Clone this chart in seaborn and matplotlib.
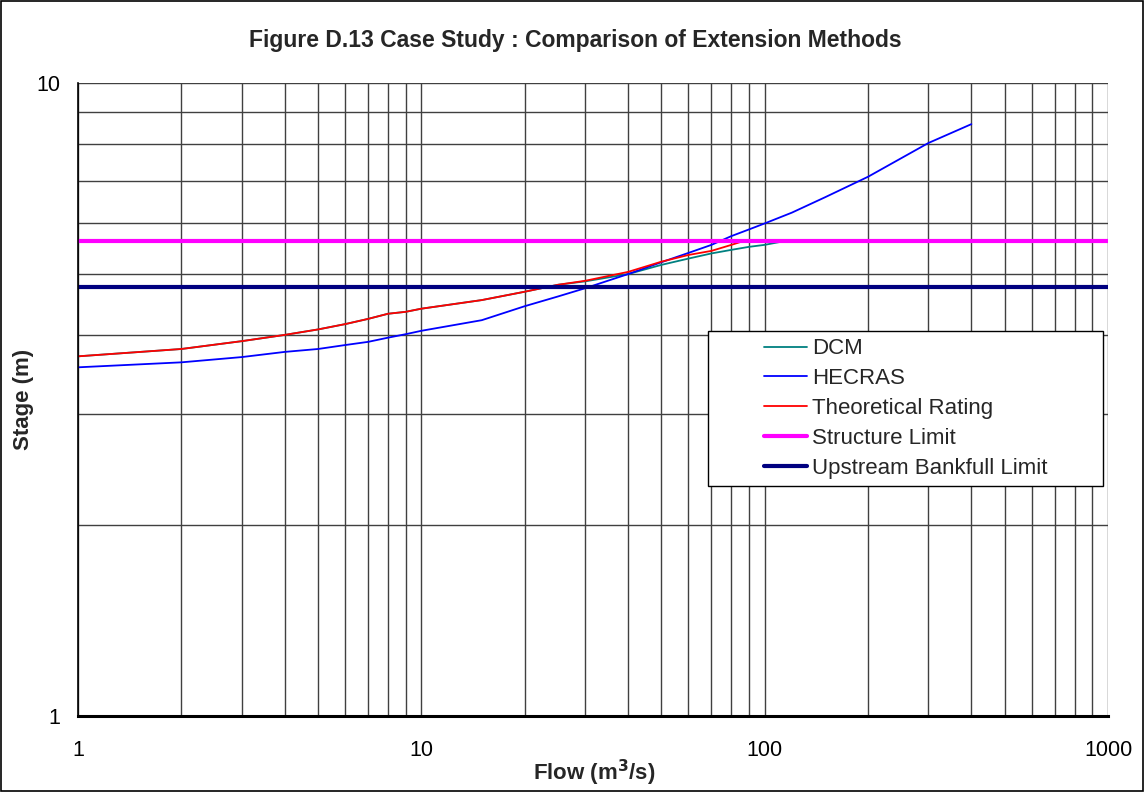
import numpy as np
import pandas as pd
import matplotlib
matplotlib.use("Agg")
import matplotlib.pyplot as plt
from matplotlib.ticker import FixedLocator, NullFormatter
from matplotlib.legend_handler import HandlerLine2D
import seaborn as sns

# Rating curves: flow (m3/s) against stage (m)
dcm_flow = [1, 2, 3, 4, 5, 6, 7, 8, 9, 10, 15, 20, 25, 30, 40, 50, 60, 70, 80, 90, 100, 115]
dcm_stage = [3.70, 3.80, 3.91, 4.00, 4.08, 4.16, 4.24, 4.32, 4.35, 4.40, 4.54, 4.68, 4.80,
             4.86, 4.99, 5.16, 5.28, 5.38, 5.45, 5.51, 5.55, 5.63]

hecras_flow = [1, 2, 3, 4, 5, 6, 7, 8, 9, 10, 15, 20, 25, 30, 40, 50, 60, 70, 80, 90, 100,
               120, 150, 200, 300, 400]
hecras_stage = [3.555, 3.62, 3.69, 3.76, 3.80, 3.855, 3.90, 3.96, 4.01, 4.06, 4.22, 4.44,
                4.60, 4.74, 4.99, 5.21, 5.39, 5.55, 5.73, 5.87, 6.00, 6.24, 6.60, 7.11,
                8.04, 8.61]

theory_flow = [1, 2, 3, 4, 5, 6, 7, 8, 9, 10, 15, 20, 25, 30, 40, 50, 60, 70, 80, 87]
theory_stage = [3.70, 3.80, 3.91, 4.00, 4.08, 4.16, 4.24, 4.32, 4.35, 4.40, 4.54, 4.68,
                4.80, 4.87, 5.03, 5.22, 5.35, 5.43, 5.55, 5.63]

limit_flow = [1, 1000]
structure_limit = 5.63
bankfull_limit = 4.76

series_names = ["DCM", "HECRAS", "Theoretical Rating", "Structure Limit",
                "Upstream Bankfull Limit"]
series_colors = ["#008080", "#0000FF", "#FF0000", "#FF00FF", "#000080"]
series_widths = [1.3, 1.3, 1.3, 3.0, 3.0]

x_ticks = [1, 10, 100, 1000]
x_tick_labels = ["1", "10", "100", "1000"]
y_ticks = [1, 10]
y_tick_labels = ["1", "10"]

frames = [
    pd.DataFrame({"flow": dcm_flow, "stage": dcm_stage, "series": series_names[0]}),
    pd.DataFrame({"flow": hecras_flow, "stage": hecras_stage, "series": series_names[1]}),
    pd.DataFrame({"flow": theory_flow, "stage": theory_stage, "series": series_names[2]}),
    pd.DataFrame({"flow": limit_flow, "stage": [structure_limit] * 2, "series": series_names[3]}),
    pd.DataFrame({"flow": limit_flow, "stage": [bankfull_limit] * 2, "series": series_names[4]}),
]
data = pd.concat(frames, ignore_index=True)

sns.set_style("white")
plt.rcParams["font.family"] = ["Liberation Sans", "DejaVu Sans"]

fig = plt.figure(figsize=(11.44, 7.92), dpi=100)
ax = fig.add_axes([78 / 1144, 76 / 792, 1030 / 1144, 633 / 792])

for name, color, lw in zip(series_names, series_colors, series_widths):
    sub = data[data["series"] == name]
    sns.lineplot(data=sub, x="flow", y="stage", ax=ax, color=color, linewidth=lw,
                 label=name, sort=False, estimator=None)

ax.set_xscale("log")
ax.set_yscale("log")
ax.set_xlim(1, 1000)
ax.set_ylim(1, 10)

ax.xaxis.set_major_locator(FixedLocator(x_ticks))
ax.set_xticklabels(x_tick_labels)
ax.xaxis.set_minor_locator(FixedLocator([m * d for d in (1, 10, 100) for m in range(2, 10)]))
ax.xaxis.set_minor_formatter(NullFormatter())
ax.yaxis.set_major_locator(FixedLocator(y_ticks))
ax.set_yticklabels(y_tick_labels)
ax.yaxis.set_minor_locator(FixedLocator([m for m in range(2, 10)]))
ax.yaxis.set_minor_formatter(NullFormatter())

ax.grid(True, which="both", color="#404040", linewidth=1.0)
ax.set_axisbelow(True)
ax.tick_params(axis="both", which="major", direction="out", length=6, width=1,
               colors="black", labelsize=15.5)
ax.tick_params(axis="y", which="major", pad=7)
ax.tick_params(axis="x", which="major", pad=11)
ax.tick_params(axis="both", which="minor", length=0)

for side in ("top", "right"):
    ax.spines[side].set_visible(False)
ax.spines["left"].set_color("black")
ax.spines["left"].set_linewidth(1.2)
ax.spines["bottom"].set_color("black")
ax.spines["bottom"].set_linewidth(2.2)

ax.set_xlabel("Flow (m$^{\\mathbf{3}}$/s)", fontsize=16, fontweight="bold")
ax.set_ylabel("Stage (m)", fontsize=16, fontweight="bold")
ax.xaxis.set_label_coords(0.501, (716 - 773) / 633)
ax.xaxis.label.set_va("center")
ax.yaxis.set_label_coords((24 - 78) / 1030, 0.5)
ax.yaxis.label.set_va("center")
fig.suptitle("Figure D.13 Case Study : Comparison of Extension Methods",
             x=0.503, y=1 - 41 / 792, va="center", fontsize=16.5, fontweight="bold")


class RightLineHandler(HandlerLine2D):
    """Legend key drawn only in the right part of the handle box."""

    def get_xdata(self, legend, xdescent, ydescent, width, height, fontsize):
        xs = np.array([-xdescent + width * 0.53, -xdescent + width])
        return xs, xs


handles, labels = ax.get_legend_handles_labels()
leg_bottom = (716 - 486) / 633
leg_top = (716 - 331) / 633
leg = ax.legend(handles, labels, loc="upper left",
                bbox_to_anchor=(630 / 1030, leg_bottom, 395 / 1030, leg_top - leg_bottom),
                mode="expand", fontsize=16, frameon=True, fancybox=False,
                edgecolor="black", framealpha=1, borderpad=0.33, labelspacing=0.40,
                handlelength=4.14, handletextpad=0.22, borderaxespad=0,
                handler_map={h: RightLineHandler() for h in handles})
leg.get_frame().set_linewidth(1.0)

# outer border round the whole figure
fig.patches.append(plt.Rectangle((0.0008, 0.0012), 0.9984, 0.9976, transform=fig.transFigure,
                                 fill=False, edgecolor="black", linewidth=1.2))

fig.savefig("out.png", dpi=100)
